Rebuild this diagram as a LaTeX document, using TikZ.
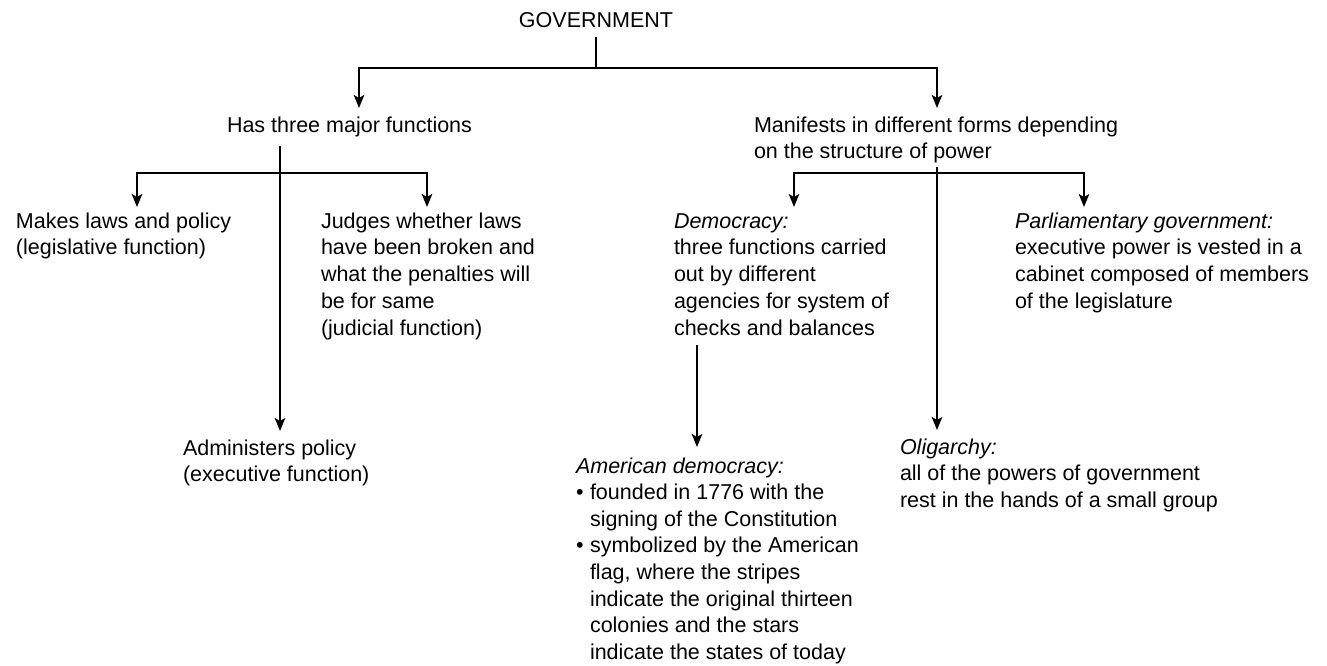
\documentclass[tikz,border=0pt]{standalone}
\usepackage{fontspec}
\setmainfont{Liberation Sans}
\usetikzlibrary{arrows.meta}
% bullet marker and hanging indent for the list lines
\newcommand{\bulletline}{\makebox[14pt][l]{\textbullet}}
\newcommand{\bulletcont}{\hspace*{14pt}}
\begin{document}
\begin{tikzpicture}[x=1pt,y=-1pt,
  conn/.style={line width=1.9pt, line join=miter},
  arr/.style={conn, -{Stealth[length=13pt,width=10.5pt,inset=3pt]}},
  % multi-line labels: the base anchor sits on the baseline of the last line
  lbl/.style={inner sep=0pt, outer sep=0pt, align=left, anchor=base west,
              font=\fontsize{21.5}{26.8}\selectfont},
]
\useasboundingbox (0,0) rectangle (1327,665);

% ---- labels (positions give the baseline of the last line) ----
\node[lbl, anchor=base] (gov) at (596,27) {GOVERNMENT};
\node[lbl] (has) at (227,132) {Has three major functions};
\node[lbl] (man) at (754,158.8) {Manifests in different forms depending\\on the structure of power};
\node[lbl] (makes) at (16,254.8) {Makes laws and policy\\(legislative function)};
\node[lbl] (judges) at (321,335.2) {Judges whether laws\\have been broken and\\what the penalties will\\be for same\\(judicial function)};
\node[lbl] (adm) at (183,481.8) {Administers policy\\(executive function)};
\node[lbl] (dem) at (674,335.2) {\textit{Democracy:}\\three functions carried\\out by different\\agencies for system of\\checks and balances};
\node[lbl] (parl) at (1015,308.4) {\textit{Parliamentary government:}\\executive power is vested in a\\cabinet composed of members\\of the legislature};
\node[lbl, font=\fontsize{21.5}{26.6}\selectfont] (amer) at (576,659.2) {\textit{American democracy:}\\
  \bulletline founded in 1776 with the\\
  \bulletcont signing of the Constitution\\
  \bulletline symbolized by the American\\
  \bulletcont flag, where the stripes\\
  \bulletcont indicate the original thirteen\\
  \bulletcont colonies and the stars\\
  \bulletcont indicate the states of today};
\node[lbl] (olig) at (900,507.6) {\textit{Oligarchy:}\\all of the powers of government\\rest in the hands of a small group};

% ---- junction points and arrow ends ----
\coordinate (govfoot) at (596,37);
\coordinate (govbar)  at (596,68);
\coordinate (hasin)   at (359,108);
\coordinate (manin)   at (937,108);

\coordinate (hasfoot) at (280,146);
\coordinate (hasbar)  at (280,173);
\coordinate (makesin) at (137,207);
\coordinate (judgein) at (427,207);
\coordinate (admin)   at (280,431);

\coordinate (manfoot) at (937,167);
\coordinate (manbar)  at (937,173);
\coordinate (demin)   at (794,207);
\coordinate (parlin)  at (1084,207);
\coordinate (oligin)  at (937,430);

\coordinate (demfoot) at (697,345);
\coordinate (amerin)  at (697,447);

% ---- connectors ----
\draw[conn] (govfoot) -- (govbar);
\draw[arr] (govbar) -| (hasin);
\draw[arr] (govbar) -| (manin);

\draw[arr] (hasfoot) -- (admin);
\draw[arr] (hasbar) -| (makesin);
\draw[arr] (hasbar) -| (judgein);

\draw[arr] (manfoot) -- (oligin);
\draw[arr] (manbar) -| (demin);
\draw[arr] (manbar) -| (parlin);

\draw[arr] (demfoot) -- (amerin);
\end{tikzpicture}
\end{document}
